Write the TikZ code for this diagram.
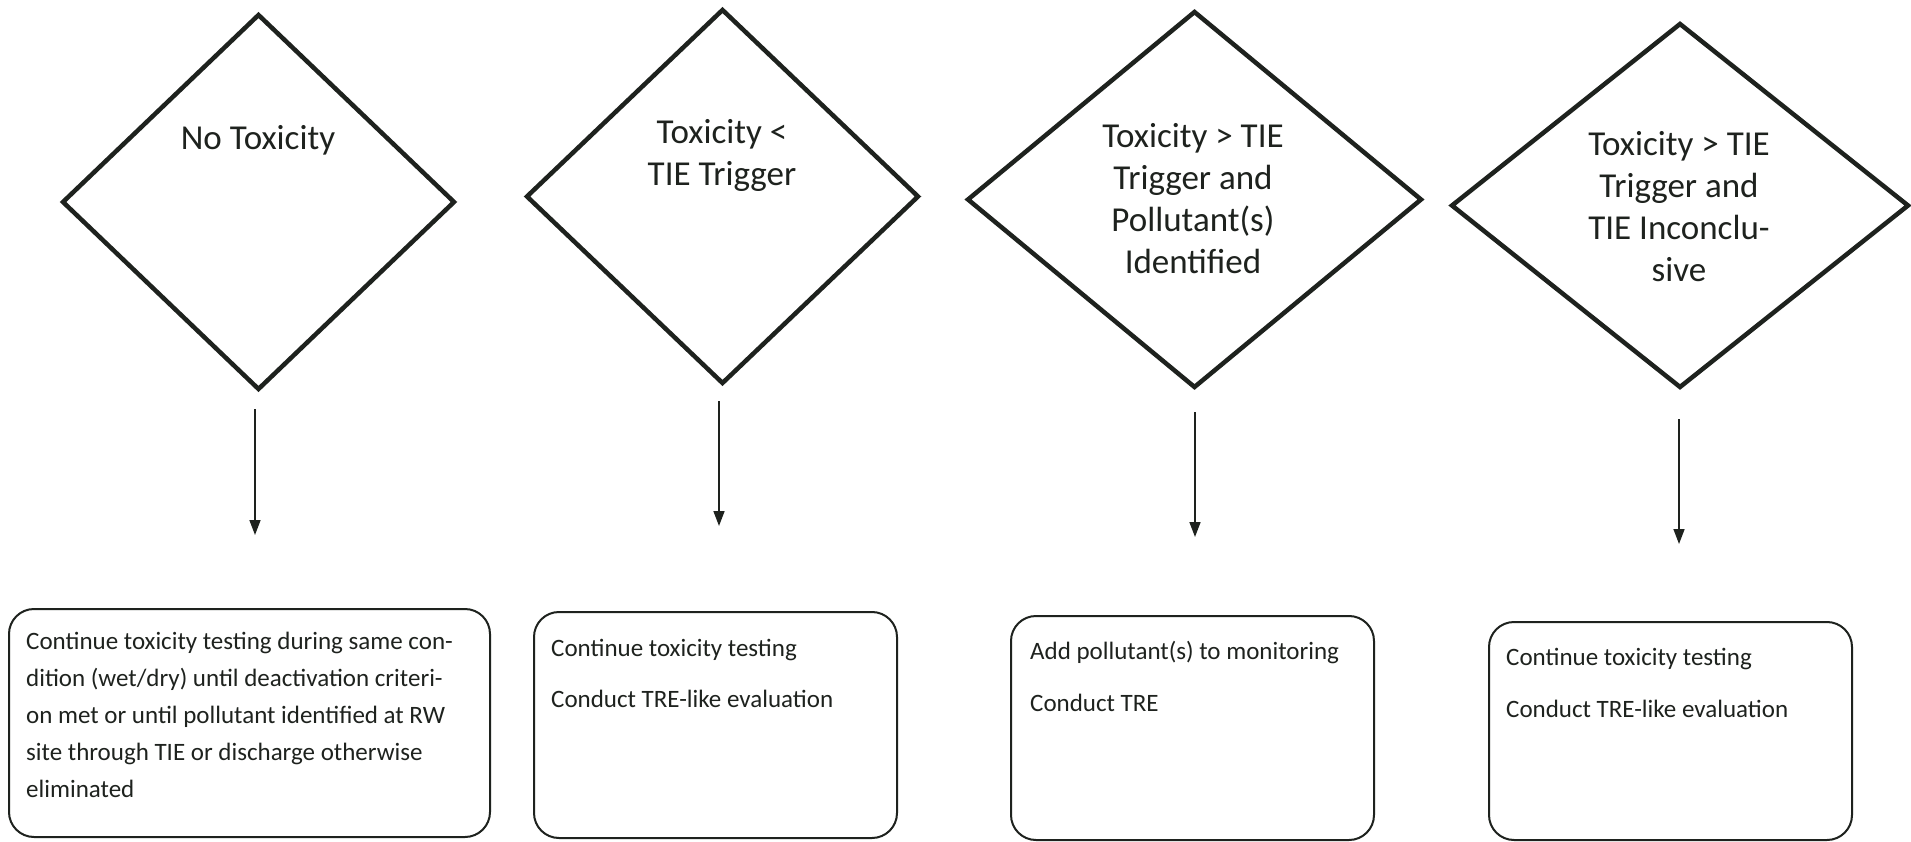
\documentclass[tikz,border=0pt]{standalone}
\usepackage{fontspec}
\setmainfont{Carlito}
\usetikzlibrary{shapes.geometric,arrows.meta}
\definecolor{ink}{RGB}{30,34,30}
\begin{document}
\begin{tikzpicture}[x=1pt,y=-1pt,
  decision/.style={shape=diamond, draw=ink, line width=4.5pt, inner sep=0pt, outer sep=0pt},
  dlabel/.style={align=center, inner sep=0pt, text=ink, font=\fontsize{35}{42}\selectfont},
  actionbox/.style={shape=rectangle, draw=ink, line width=2pt, rounded corners=25pt, inner sep=0pt},
  blabel/.style={align=left, anchor=north west, inner sep=0pt, text=ink, font=\fontsize{25}{37}\selectfont},
  flow/.style={draw=ink, line width=1.6pt, -{Triangle[length=15pt,width=11pt]}}
]
\useasboundingbox (0,0) rectangle (1911,842);
\fill[white] (0,0) rectangle (1911,842);

% decisions
\node[decision, minimum width=391pt, minimum height=374pt] (d1) at (258.5,202) {};
\node[decision, minimum width=391pt, minimum height=373pt] (d2) at (722.5,196.5) {};
\node[decision, minimum width=453pt, minimum height=375pt] (d3) at (1194.5,199.5) {};
\node[decision, minimum width=456pt, minimum height=363pt] (d4) at (1680,205.5) {};

\node[dlabel] (t1) at (258,140) {No Toxicity};
\node[dlabel] (t2) at (722,155) {Toxicity <\\TIE Trigger};
\node[dlabel] (t3) at (1193,199) {Toxicity > TIE\\Trigger and\\Pollutant(s)\\Identified};
\node[dlabel] (t4) at (1679,207) {Toxicity > TIE\\Trigger and\\TIE Inconclu-\\sive};

% action boxes
\node[actionbox, minimum width=481pt, minimum height=228pt] (b1) at (249.5,723) {};
\node[actionbox, minimum width=363pt, minimum height=226pt] (b2) at (715.5,725) {};
\node[actionbox, minimum width=363pt, minimum height=224pt] (b3) at (1192.5,728) {};
\node[actionbox, minimum width=363pt, minimum height=218pt] (b4) at (1670.5,731) {};

\node[blabel] (l1) at (26,632) {Continue toxicity testing during same con-\\dition (wet/dry) until deactivation criteri-\\on met or until pollutant identified at RW\\site through TIE or discharge otherwise\\eliminated};
\node[blabel] (l2) at (551,639) {Continue toxicity testing\\[14pt]Conduct TRE-like evaluation};
\node[blabel] (l3) at (1030,641) {Add pollutant(s) to monitoring\\[15pt]Conduct TRE};
\node[blabel] (l4) at (1506,648) {Continue toxicity testing\\[15pt]Conduct TRE-like evaluation};

% arrows
\coordinate (a1s) at (255,409); \coordinate (a1e) at (255,535);
\coordinate (a2s) at (719,401); \coordinate (a2e) at (719,526);
\coordinate (a3s) at (1195,412); \coordinate (a3e) at (1195,537);
\coordinate (a4s) at (1679,419); \coordinate (a4e) at (1679,544);
\draw[flow] (a1s) -- (a1e);
\draw[flow] (a2s) -- (a2e);
\draw[flow] (a3s) -- (a3e);
\draw[flow] (a4s) -- (a4e);
\end{tikzpicture}
\end{document}
